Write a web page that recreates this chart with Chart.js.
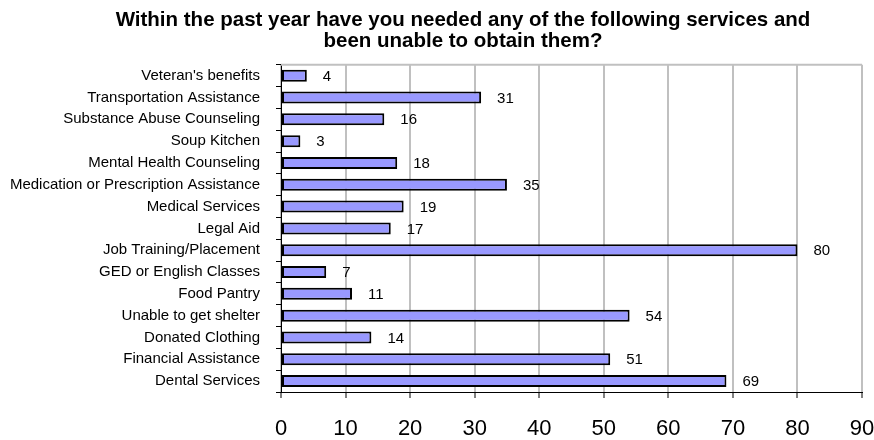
<!DOCTYPE html>
<html>
<head>
<meta charset="utf-8">
<title>Services needed but not obtained</title>
<script src="https://cdn.jsdelivr.net/npm/chart.js@4/dist/chart.umd.min.js"></script>
<style>
  body { margin: 0; background: #fff; }
  canvas { display: block; }
</style>
</head>
<body>
<canvas id="servicesChart" width="874" height="440"></canvas>
<script>
const FONT = "'Liberation Sans', Arial, sans-serif";

const services = [
    "Veteran's benefits",
    "Transportation Assistance",
    "Substance Abuse Counseling",
    "Soup Kitchen",
    "Mental Health Counseling",
    "Medication or Prescription Assistance",
    "Medical Services",
    "Legal Aid",
    "Job Training/Placement",
    "GED or English Classes",
    "Food Pantry",
    "Unable to get shelter",
    "Donated Clothing",
    "Financial Assistance",
    "Dental Services"
];
const responses = [4, 31, 16, 3, 18, 35, 19, 17, 80, 7, 11, 54, 14, 51, 69];
const xTicks = [0, 10, 20, 30, 40, 50, 60, 70, 80, 90];

const titleLines = [
    "Within the past year have you needed any of the following services and",
    "been unable to obtain them?"
];

// writes the count just past the end of each bar
const valueLabels = {
    id: "valueLabels",
    afterDatasetsDraw(chart) {
        const ctx = chart.ctx;
        const meta = chart.getDatasetMeta(0);
        ctx.save();
        ctx.font = "15px " + FONT;
        ctx.fillStyle = "#000";
        ctx.textAlign = "left";
        ctx.textBaseline = "middle";
        meta.data.forEach((bar, i) => {
            ctx.fillText(String(responses[i]), bar.x + 16, bar.y + 1);
        });
        ctx.restore();
    }
};

// gray frame line along the top of the plot area
const topBorder = {
    id: "topBorder",
    beforeDatasetsDraw(chart) {
        const a = chart.chartArea;
        const ctx = chart.ctx;
        ctx.save();
        ctx.strokeStyle = "#c0c0c0";
        ctx.lineWidth = 2;
        ctx.beginPath();
        ctx.moveTo(a.left, a.top);
        ctx.lineTo(a.right, a.top);
        ctx.stroke();
        ctx.restore();
    }
};

// the title is centred a little right of the canvas middle
const titleShift = {
    id: "titleShift",
    afterLayout(chart) {
        if (chart.titleBlock) chart.titleBlock.left = 52;
    }
};

const ctx = document.getElementById("servicesChart").getContext("2d");
const servicesChart = new Chart(ctx, {
    type: "bar",
    data: {
        labels: services,
        datasets: [{
            data: responses,
            backgroundColor: "#9999ff",
            borderColor: "#000",
            borderWidth: 2,
            borderSkipped: false,
            barPercentage: 0.55,
            categoryPercentage: 1
        }]
    },
    options: {
        indexAxis: "y",
        responsive: false,
        animation: false,
        devicePixelRatio: 1,
        layout: { padding: { left: 0, right: 0, top: 0, bottom: 0 } },
        plugins: {
            legend: { display: false },
            tooltip: { enabled: false },
            title: {
                display: true,
                text: titleLines,
                color: "#000",
                font: { family: FONT, size: 20.5, weight: "bold", lineHeight: 1.02 },
                padding: { top: 10, bottom: 13 }
            }
        },
        scales: {
            x: {
                min: 0,
                max: 90,
                afterFit(scale) {
                    scale.height = 48;
                    scale.paddingRight = 12;
                },
                afterBuildTicks(scale) {
                    scale.ticks = xTicks.map(v => ({ value: v }));
                },
                ticks: {
                    color: "#000",
                    font: { family: FONT, size: 22 },
                    padding: 18
                },
                grid: {
                    color: "#c0c0c0",
                    lineWidth: 2,
                    tickColor: "#000",
                    tickLength: 6,
                    tickWidth: 1
                },
                border: { color: "#000", width: 1 }
            },
            y: {
                afterFit(scale) { scale.width = 281; },
                ticks: {
                    color: "#000",
                    font: { family: FONT, size: 15 },
                    padding: 16,
                    autoSkip: false
                },
                grid: {
                    offset: true,
                    drawOnChartArea: false,
                    color: "#000",
                    tickLength: 5
                },
                border: { color: "#000", width: 1 }
            }
        }
    },
    plugins: [titleShift, topBorder, valueLabels]
});
</script>
</body>
</html>
